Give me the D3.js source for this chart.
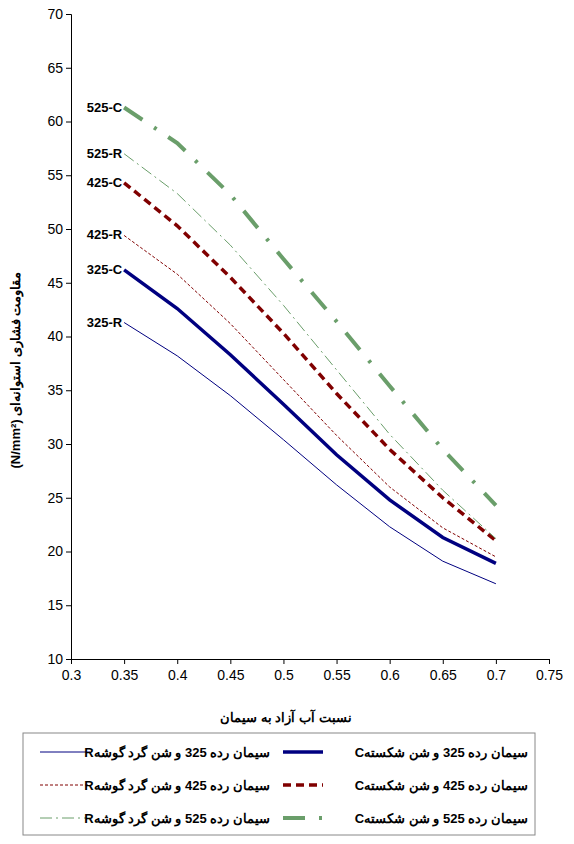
<!DOCTYPE html>
<html><head><meta charset="utf-8">
<script src="https://cdn.jsdelivr.net/npm/d3@7"></script>
<style>body{margin:0;background:#fff;font-family:Arial,"Liberation Sans",sans-serif}</style>
</head><body>
<script>
const ratios = [0.35, 0.4, 0.45, 0.5, 0.55, 0.6, 0.65, 0.7];
const r325 = [41.3, 38.2, 34.5, 30.4, 26.2, 22.3, 19.1, 17.0];
const c325 = [46.2, 42.6, 38.3, 33.7, 29.0, 24.8, 21.3, 18.9];
const r425 = [49.4, 45.8, 41.2, 36.0, 30.8, 26.0, 22.2, 19.5];
const c425 = [54.3, 50.3, 45.5, 40.3, 34.7, 29.5, 25.0, 21.0];
const r525 = [57.0, 53.3, 48.5, 42.9, 36.9, 30.9, 25.7, 21.2];
const c525 = [61.3, 58.0, 53.2, 47.2, 41.4, 35.4, 29.5, 24.3];
const xTicks = [0.3, 0.35, 0.4, 0.45, 0.5, 0.55, 0.6, 0.65, 0.7, 0.75];
const yTicks = [10, 15, 20, 25, 30, 35, 40, 45, 50, 55, 60, 65, 70];

const series = [
  {key: "325-R", v: r325, color: "#000080", w: 1, dash: null, name: "سیمان رده 325 و شن گرد گوشهR"},
  {key: "325-C", v: c325, color: "#000080", w: 3.5, dash: null, name: "سیمان رده 325 و شن شکستهC"},
  {key: "425-R", v: r425, color: "#800000", w: 1, dash: "3,2", name: "سیمان رده 425 و شن گرد گوشهR"},
  {key: "425-C", v: c425, color: "#800000", w: 3.5, dash: "8,5", name: "سیمان رده 425 و شن شکستهC"},
  {key: "525-R", v: r525, color: "#6a9e6a", w: 1, dash: "12,4,2,4", name: "سیمان رده 525 و شن گرد گوشهR"},
  {key: "525-C", v: c525, color: "#6a9e6a", w: 4, dash: "22,14,3,14", name: "سیمان رده 525 و شن شکستهC"}
];

const svg = d3.select("body").append("svg").attr("width", 574).attr("height", 844);
const x = d3.scaleLinear().domain([0.3, 0.75]).range([71, 549]);
const y = d3.scaleLinear().domain([10, 70]).range([659, 14]);

svg.append("g").attr("transform", "translate(0,659)")
  .call(d3.axisBottom(x).tickValues(xTicks).tickFormat(d => d3.format("")(+d.toFixed(2))).tickSizeOuter(0).tickSize(5))
  .call(g => g.selectAll("text").attr("font-size", 14).attr("dy", "0.9em"));
svg.append("g").attr("transform", "translate(71,0)")
  .call(d3.axisLeft(y).tickValues(yTicks).tickSizeOuter(0).tickSize(5))
  .call(g => g.selectAll("text").attr("font-size", 14));
svg.selectAll(".domain").attr("stroke", "#000");

const line = d3.line().x((d, i) => x(ratios[i])).y(d => y(d));
svg.append("g").selectAll("path").data(series).join("path")
  .attr("d", s => line(s.v)).attr("fill", "none")
  .attr("stroke", s => s.color).attr("stroke-width", s => s.w)
  .attr("stroke-dasharray", s => s.dash);

svg.append("g").selectAll("text").data(series).join("text")
  .attr("x", x(0.35) - 2).attr("y", s => y(s.v[0]) + 4)
  .attr("text-anchor", "end").attr("font-size", 13).attr("font-weight", "bold")
  .text(s => s.key);

svg.append("text").attr("x", 286).attr("y", 722).attr("text-anchor", "middle")
  .attr("font-size", 13).attr("font-weight", "bold").text("نسبت آب آزاد به سیمان");
svg.append("text").attr("transform", "translate(20,370) rotate(-90)").attr("text-anchor", "middle")
  .attr("font-size", 13).attr("font-weight", "bold").attr("direction", "rtl")
  .text("مقاومت فشاری استوانه‌ای (N/mm²)");

svg.append("rect").attr("x", 23).attr("y", 733).attr("width", 512).attr("height", 102)
  .attr("fill", "none").attr("stroke", "#888");
const leg = svg.append("g").selectAll("g").data(series).join("g")
  .attr("transform", (s, i) => `translate(${i % 2 ? 283 : 40},${752 + Math.floor(i / 2) * 33})`);
leg.append("line").attr("x1", 0).attr("x2", s => s.w > 2 ? 40 : 50).attr("stroke", s => s.color)
  .attr("stroke-width", s => s.w).attr("stroke-dasharray", s => s.dash);
leg.append("text").attr("x", (s, i) => i % 2 ? 245 : 230).attr("y", 5)
  .attr("text-anchor", "start").attr("direction", "rtl")
  .attr("font-size", 13).attr("font-weight", "bold").text(s => s.name);
</script>
</body></html>
